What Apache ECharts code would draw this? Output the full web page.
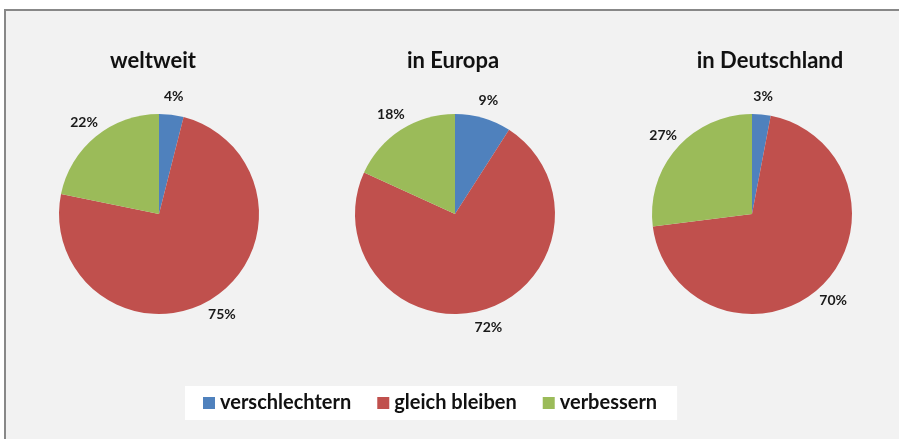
<!DOCTYPE html>
<html>
<head>
<meta charset="utf-8">
<script src="https://cdn.jsdelivr.net/npm/echarts@6/dist/echarts.min.js"></script>
<style>
  html, body { margin: 0; padding: 0; background: #fff; }
  #chart { width: 899px; height: 439px; }
</style>
</head>
<body>
<div id="chart"></div>
<script>
  // Daten
  let categories = ['verschlechtern', 'gleich bleiben', 'verbessern']
  let regions = ['weltweit', 'in Europa', 'in Deutschland']
  let weltweit = [4, 75, 22]
  let europa = [9, 72, 18]
  let deutschland = [3, 70, 27]
  let colors = ['#4f81bd', '#c0504d', '#9bbb59']

  let values = [weltweit, europa, deutschland]
  let centersX = [159, 455, 752]
  let titlesX = [148, 448, 765]

  let myChart = echarts.init(document.getElementById('chart'))

  let series = []
  values.forEach(function (vals, i) {
    // eigentliche Torte
    series.push({
      name: regions[i],
      type: 'pie',
      center: [centersX[i], 214],
      radius: 100,
      startAngle: 90,
      clockwise: true,
      silent: true,
      label: { show: false },
      labelLine: { show: false },
      data: vals.map(function (v, j) {
        return { name: categories[j], value: v, itemStyle: { color: colors[j] } }
      })
    })
    // unsichtbarer Ring nur fuer die Beschriftung (wie Excel "aussen")
    series.push({
      name: regions[i] + '_label',
      type: 'pie',
      center: [centersX[i], 214],
      radius: [100, 131],
      startAngle: 90,
      clockwise: true,
      silent: true,
      legendHoverLink: false,
      itemStyle: { color: 'rgba(0,0,0,0)' },
      label: {
        show: true,
        position: 'inside',
        formatter: '{c}%',
        color: '#1a1a1a',
        fontFamily: 'Lato',
        fontWeight: 'bold',
        fontSize: 14
      },
      labelLine: { show: false },
      data: vals.map(function (v, j) {
        return { name: categories[j] + ' ', value: v }
      })
    })
  })

  let option = {
    backgroundColor: '#ffffff',
    animation: false,
    graphic: [{
      type: 'rect',
      z: -10,
      shape: { x: 5, y: 10, width: 900, height: 440 },
      style: { fill: '#f2f2f2', stroke: '#888888', lineWidth: 2 }
    }],
    title: regions.map(function (t, i) {
      return {
        text: t,
        left: titlesX[i],
        top: 45,
        textAlign: 'center',
        textStyle: {
          fontFamily: 'Lato',
          fontWeight: 'bold',
          fontSize: 22,
          color: '#111111'
        }
      }
    }),
    legend: {
      data: categories,
      bottom: 19,
      left: 185,
      backgroundColor: '#ffffff',
      padding: [7, 20, 7, 18],
      itemGap: 26,
      itemWidth: 12,
      itemHeight: 12,
      icon: 'rect',
      textStyle: {
        fontFamily: 'Lato',
        fontWeight: 'bold',
        fontSize: 20,
        color: '#111111'
      }
    },
    series: series
  }
  myChart.setOption(option)
</script>
</body>
</html>
